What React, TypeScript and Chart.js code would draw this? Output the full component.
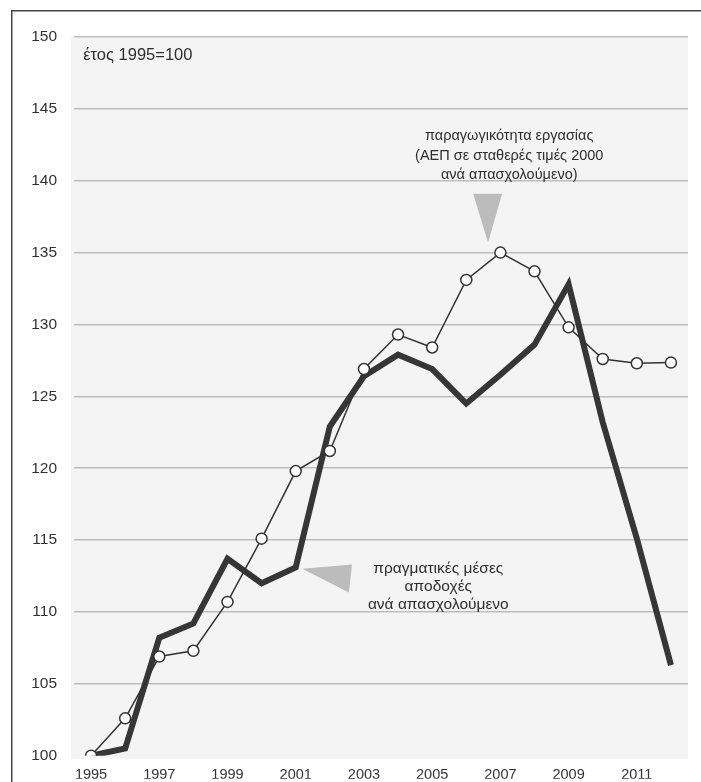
import { useEffect, useRef } from "react";
import { Chart, registerables } from "chart.js";

Chart.register(...registerables);

const years = ["1995", "1996", "1997", "1998", "1999", "2000", "2001", "2002", "2003", "2004", "2005", "2006", "2007", "2008", "2009", "2010", "2011", "2012"];
const productivity = [100, 102.6, 106.9, 107.3, 110.7, 115.1, 119.8, 121.2, 126.9, 129.3, 128.4, 133.1, 135.0, 133.7, 129.8, 127.6, 127.3, 127.35];
const wages = [100, 100.5, 108.2, 109.2, 113.7, 112.0, 113.1, 122.9, 126.4, 127.9, 126.9, 124.5, 126.5, 128.6, 132.8, 123.2, 115.1, 106.3];
const yMin = 100;
const yMax = 150;
const yStep = 5;

const baseNote = "έτος 1995=100";
const productivityNote = ["παραγωγικότητα εργασίας", "(ΑΕΠ σε σταθερές τιμές 2000", "ανά απασχολούμενο)"];
const wagesNote = ["πραγματικές μέσες", "αποδοχές", "ανά απασχολούμενο"];

const FONT = "'Liberation Sans', Arial, Helvetica, sans-serif";

export default function App() {
  const ref = useRef<HTMLCanvasElement | null>(null);

  useEffect(() => {
    const canvas = ref.current;
    if (!canvas) return;

    const decor = {
      id: "decor",
      beforeDraw(chart: any) {
        const { ctx, chartArea } = chart;
        ctx.save();
        ctx.fillStyle = "#f4f4f4";
        ctx.fillRect(chartArea.left - 3, chartArea.top, chartArea.right - chartArea.left + 3, chartArea.bottom - chartArea.top + 3);
        ctx.restore();
      },
      beforeDatasetsDraw(chart: any) {
        const { ctx } = chart;
        const xs = chart.scales.x;
        const ys = chart.scales.y;
        const P = (i: number, v: number) => [xs.getPixelForValue(i), ys.getPixelForValue(v)];
        ctx.save();
        ctx.fillStyle = "#bcbcbc";
        // down-pointing triangle (productivity)
        let a = P(11.2, 139.1), b = P(12.05, 139.1), c = P(11.64, 135.7);
        ctx.beginPath();
        ctx.moveTo(a[0], a[1]);
        ctx.lineTo(b[0], b[1]);
        ctx.lineTo(c[0], c[1]);
        ctx.closePath();
        ctx.fill();
        // left-pointing wedge (wages)
        a = P(6.19, 113.0);
        b = P(7.65, 113.3);
        c = P(7.56, 111.36);
        ctx.beginPath();
        ctx.moveTo(a[0], a[1]);
        ctx.lineTo(b[0], b[1]);
        ctx.lineTo(c[0], c[1]);
        ctx.closePath();
        ctx.fill();
        ctx.restore();
      },
      afterDraw(chart: any) {
        const { ctx } = chart;
        const xs = chart.scales.x;
        const ys = chart.scales.y;
        ctx.save();
        ctx.fillStyle = "#2e2e2e";
        ctx.textBaseline = "middle";
        ctx.font = `16.5px ${FONT}`;
        ctx.textAlign = "left";
        ctx.fillText(baseNote, xs.getPixelForValue(-0.23), ys.getPixelForValue(148.75));

        ctx.font = `14.5px ${FONT}`;
        ctx.textAlign = "center";
        const pv = [143.1, 141.7, 140.4];
        productivityNote.forEach((t, k) => ctx.fillText(t, xs.getPixelForValue(12.26), ys.getPixelForValue(pv[k])));
        ctx.font = `15.5px ${FONT}`;
        const wv = [113.02, 111.77, 110.53];
        wagesNote.forEach((t, k) => ctx.fillText(t, xs.getPixelForValue(10.18), ys.getPixelForValue(wv[k])));

        // outer frame
        ctx.strokeStyle = "#444";
        ctx.lineWidth = 1.5;
        ctx.beginPath();
        ctx.moveTo(11.75, chart.height);
        ctx.lineTo(11.75, 10.75);
        ctx.lineTo(chart.width, 10.75);
        ctx.stroke();
        ctx.restore();
      },
    };

    const chart = new Chart(canvas, {
      type: "line",
      data: {
        labels: years,
        datasets: [
          {
            label: "productivity",
            data: productivity,
            borderColor: "#333",
            borderWidth: 1.5,
            pointRadius: 5.5,
            pointBackgroundColor: "#ffffff",
            pointBorderColor: "#333",
            pointBorderWidth: 1.5,
            tension: 0,
          },
          {
            label: "wages",
            data: wages,
            borderColor: "#363636",
            borderWidth: 6,
            pointRadius: 0,
            tension: 0,
          },
        ],
      },
      options: {
        responsive: false,
        animation: false,
        layout: { padding: { left: 0, top: 37, right: 13, bottom: 0 } },
        plugins: {
          legend: { display: false },
          tooltip: { enabled: false },
        },
        scales: {
          x: {
            type: "category",
            offset: true,
            grid: { display: false },
            border: { display: false },
            ticks: {
              autoSkip: false,
              maxRotation: 0,
              padding: 3,
              color: "#333",
              font: { family: FONT, size: 14.5 },
              callback: (_v: any, i: number) => (i % 2 === 0 ? years[i] : ""),
            },
            afterFit: (s: any) => {
              s.height = 23;
            },
          },
          y: {
            min: yMin,
            max: yMax,
            border: { display: false },
            grid: {
              drawTicks: false,
              lineWidth: 1.5,
              color: (c: any) => (c.tick && c.tick.value === yMin ? "rgba(0,0,0,0)" : "#bdbdbd"),
            },
            ticks: {
              stepSize: yStep,
              padding: 17,
              color: "#333",
              font: { family: FONT, size: 15.5 },
            },
            afterFit: (s: any) => {
              s.width = 74;
            },
          },
        },
      },
      plugins: [decor],
    });

    return () => chart.destroy();
  }, []);

  return (
    <div style={{ position: "absolute", left: 0, top: 0, width: 701, height: 782, background: "#fff" }}>
      <canvas ref={ref} width={701} height={782} style={{ display: "block" }} />
    </div>
  );
}
